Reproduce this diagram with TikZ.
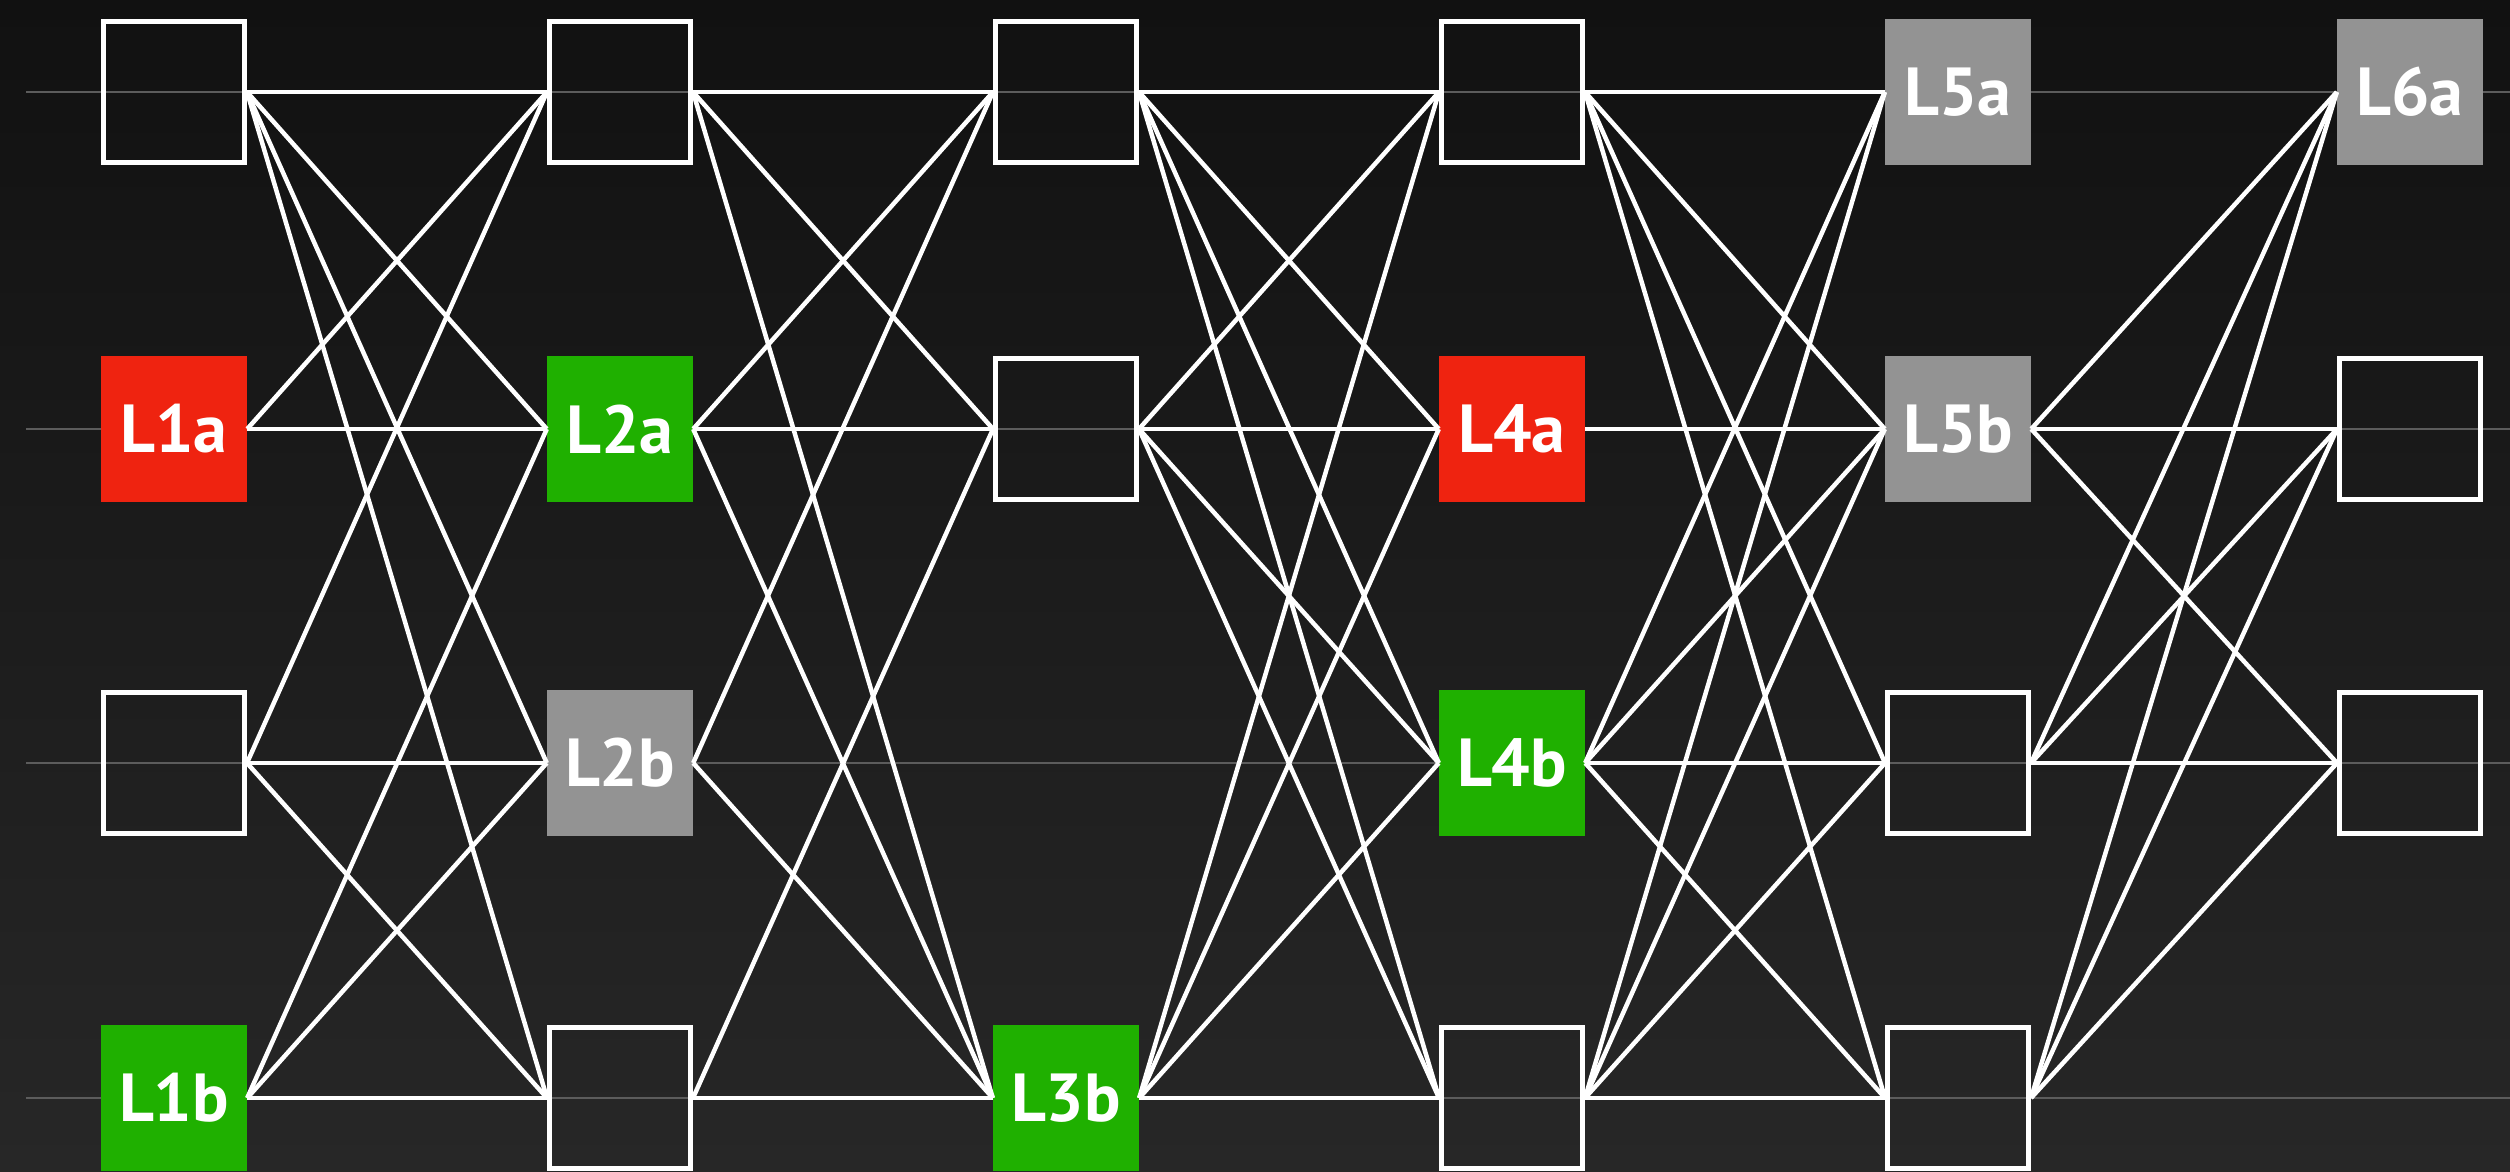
\documentclass[tikz,border=0pt]{standalone}
\usepackage{fontspec}
\setmainfont{PT Sans}
\definecolor{bgtop}{RGB}{17,17,17}
\definecolor{bgbot}{RGB}{39,39,39}
\definecolor{guidegray}{RGB}{92,92,92}
\definecolor{nred}{RGB}{239,35,16}
\definecolor{ngreen}{RGB}{31,176,0}
\definecolor{ngray}{RGB}{147,147,147}
\begin{document}
\begin{tikzpicture}[x=1pt,y=-1pt,
  wbox/.style={draw=white, line width=5pt, minimum size=141pt, inner sep=0pt},
  cbox/.style={minimum size=146pt, inner sep=0pt, text=white,
    font=\fontsize{68}{68}\selectfont\bfseries},
  redbox/.style={cbox, fill=nred},
  greenbox/.style={cbox, fill=ngreen},
  graybox/.style={cbox, fill=ngray},
  link/.style={draw=white, line width=4.5pt},
  guide/.style={draw=guidegray, line width=2.2pt}]
\useasboundingbox (0,0) rectangle (2510,1171);
\shade[top color=bgtop, bottom color=bgbot] (0,0) rectangle (2510,1171);
% guide lines
\foreach \r/\y in {1/92,2/429,3/763,4/1098}{
  \coordinate (gl\r) at (26,\y);
  \coordinate (gr\r) at (2510,\y);
  \draw[guide] (gl\r) -- (gr\r);
}
% nodes (column x: 174,620,1066,1512,1958,2410; row y: 92,429,763,1098)
\node[wbox]     (n11) at (174,92)   {};
\node[redbox]   (n12) at (174,429)  {L1a};
\node[wbox]     (n13) at (174,763)  {};
\node[greenbox] (n14) at (174,1098) {L1b};
\node[wbox]     (n21) at (620,92)   {};
\node[greenbox] (n22) at (620,429)  {L2a};
\node[graybox]  (n23) at (620,763)  {L2b};
\node[wbox]     (n24) at (620,1098) {};
\node[wbox]     (n31) at (1066,92)  {};
\node[wbox]     (n32) at (1066,429) {};
\node[greenbox] (n34) at (1066,1098){L3b};
\node[wbox]     (n41) at (1512,92)  {};
\node[redbox]   (n42) at (1512,429) {L4a};
\node[greenbox] (n43) at (1512,763) {L4b};
\node[wbox]     (n44) at (1512,1098){};
\node[graybox]  (n51) at (1958,92)  {L5a};
\node[graybox]  (n52) at (1958,429) {L5b};
\node[wbox]     (n53) at (1958,763) {};
\node[wbox]     (n54) at (1958,1098){};
\node[graybox]  (n61) at (2410,92)  {L6a};
\node[wbox]     (n62) at (2410,429) {};
\node[wbox]     (n63) at (2410,763) {};
% connectors
\foreach \a/\b in {11/21,11/22,11/23,11/24,12/21,12/22,13/21,13/23,13/24,14/22,14/23,14/24,
  21/31,21/32,21/34,22/31,22/32,22/34,23/31,23/34,24/32,24/34,
  31/41,31/42,31/43,31/44,32/41,32/42,32/43,32/44,34/41,34/42,34/43,34/44,
  41/51,41/52,41/53,41/54,42/52,43/51,43/52,43/53,43/54,44/51,44/52,44/53,44/54,
  52/61,52/62,52/63,53/61,53/62,53/63,54/61,54/62,54/63}
  \draw[link] (n\a.east) -- (n\b.west);
\end{tikzpicture}
\end{document}
